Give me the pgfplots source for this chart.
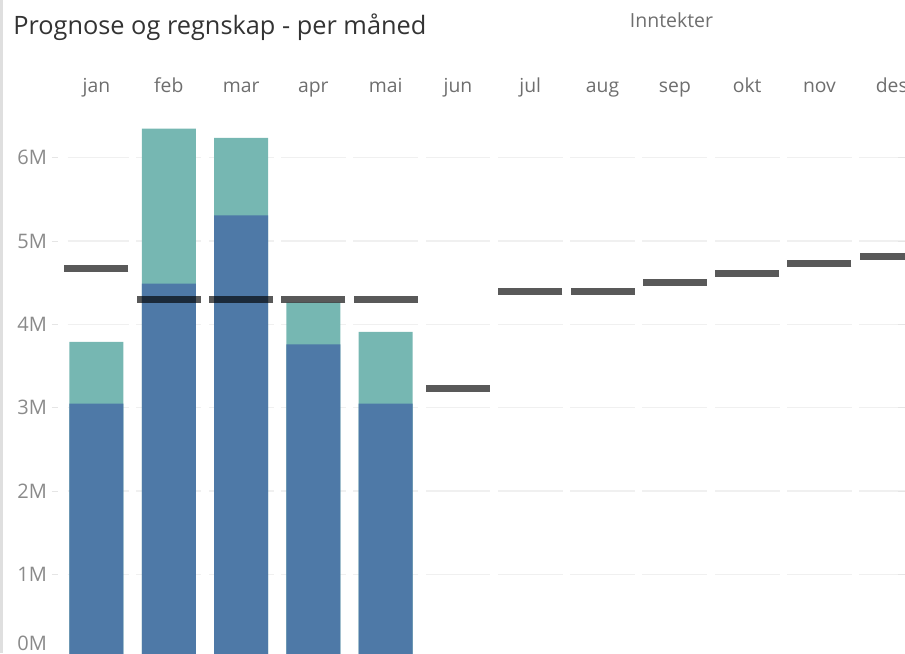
\documentclass[border=0pt]{standalone}
\usepackage{pgfplots}
\pgfplotsset{compat=1.18}
\usepackage{pgfplotstable}
\usepackage{fontspec}
\setmainfont{Open Sans}
\definecolor{tblue}{HTML}{4E79A7}
\definecolor{tteal}{HTML}{76B7B2}
\definecolor{titlec}{HTML}{333333}
\definecolor{monthc}{HTML}{6E6E6E}
\definecolor{ylabc}{HTML}{8A8A8A}
\definecolor{gridc}{HTML}{F0F0F0}

\pgfplotstableread{
x prog regn
0 3.79 3.05
1 6.35 4.49
2 6.24 5.31
3 4.26 3.76
4 3.91 3.05
}\bars

\pgfplotstableread{
x b
0 4.67
1 4.30
2 4.30
3 4.30
4 4.30
5 3.23
6 4.40
7 4.40
8 4.50
9 4.61
10 4.73
11 4.82
}\targets

\begin{document}
\begin{tikzpicture}[x=0.75pt,y=0.75pt]
\fill[gray!25] (0,0) rectangle (2.5,653);
\node[anchor=base west, inner sep=0pt, text=titlec, font=\fontsize{19pt}{21pt}\selectfont] at (13,618) {Prognose og regnskap - per måned};
\node[anchor=base, inner sep=0pt, text=monthc, font=\fontsize{14.6pt}{16pt}\selectfont] at (671.5,625.3) {Inntekter};
\begin{axis}[
  at={(50.625pt,-3.45pt)}, anchor=south west,
  scale only axis, width=639.9pt, height=406.1pt,
  xmin=-0.401, xmax=11.4, ymin=0, ymax=6.5,
  axis line style={draw=none},
  xtick={0,...,11},
  xticklabels={jan,feb,mar,apr,mai,jun,jul,aug,sep,okt,nov,des},
  xticklabel pos=upper,
  xtick style={draw=none},
  xticklabel style={anchor=base, inner sep=0pt, yshift=18.1pt, text=monthc, font=\fontsize{14.5pt}{16pt}\selectfont},
  ytick={1,...,6}, yticklabels={1M,2M,3M,4M,5M,6M},
  extra y ticks={0}, extra y tick labels={0M},
  extra y tick style={yticklabel style={yshift=11pt}, grid=none},
  tick align=inside, major tick length=5pt,
  ytick style={draw=gray!20, line width=0.75pt, xshift=-11.85pt},
  yticklabel style={anchor=east, inner sep=0pt, xshift=-15.2pt, text=ylabc, font=\fontsize{15pt}{17pt}\selectfont},
  ymajorgrids, major grid style={draw=gridc, line width=0.9pt},
  /pgf/number format/assume math mode=true,
]
\pgfplotsinvokeforeach{0,...,10}{\draw[white, line width=5.6pt] (axis cs:#1+0.5,0.3) -- (axis cs:#1+0.5,6.45);}
\addplot[ybar, bar width=40.5pt, bar shift=0pt, fill=tteal, draw=none] table[x=x,y=prog]{\bars};
\addplot[ybar, bar width=40.5pt, bar shift=0pt, fill=tblue, draw=none] table[x=x,y=regn]{\bars};
\addplot[only marks, mark=-, mark size=24pt, mark options={draw=black, line width=5.25pt, draw opacity=0.65}] table[x=x,y=b]{\targets};
\end{axis}
\pgfresetboundingbox
\path[use as bounding box] (0,0) rectangle (905,653);
\end{tikzpicture}
\end{document}
